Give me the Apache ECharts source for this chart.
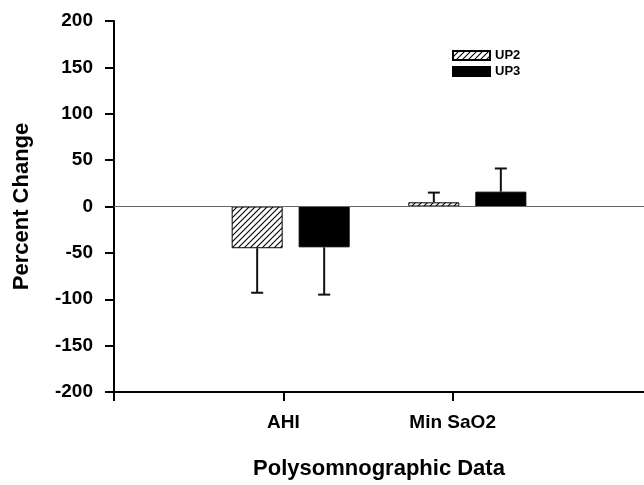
<!DOCTYPE html>
<html>
<head>
<meta charset="utf-8">
<script src="https://cdn.jsdelivr.net/npm/echarts@6/dist/echarts.min.js"></script>
<style>
  html, body { margin: 0; padding: 0; background: #fff; }
  #chart { width: 644px; height: 485px; }
</style>
</head>
<body>
<div id="chart"></div>
<script>
// data
const categories = ["AHI", "Min SaO2"];
const up2 = [-45, 4.5];
const up2Err = [48, 10.5];
const up3 = [-44, 16];
const up3Err = [51, 25];
const yTicks = { min: -200, max: 200, interval: 50 };

const FONT = "'Liberation Sans', Arial, sans-serif";
const BAR_W = 51;
const BAR_GAP = 16;

// hatch pattern for UP2
function makeHatch() {
  const size = 6;
  const c = document.createElement("canvas");
  c.width = size;
  c.height = size;
  const ctx = c.getContext("2d");
  ctx.fillStyle = "#fff";
  ctx.fillRect(0, 0, size, size);
  ctx.strokeStyle = "#000";
  ctx.lineWidth = 1.1;
  ctx.beginPath();
  ctx.moveTo(0, size);
  ctx.lineTo(size, 0);
  ctx.moveTo(-size / 2, size / 2);
  ctx.lineTo(size / 2, -size / 2);
  ctx.moveTo(size / 2, size * 1.5);
  ctx.lineTo(size * 1.5, size / 2);
  ctx.stroke();
  return c;
}

// category axis has empty ends so the groups sit inside the long x axis
const axisCats = ["", ...categories, ""];
const padSeries = (arr) => [null, ...arr, null];

function errorSeries(vals, errs, offset) {
  return {
    type: "custom",
    xAxisIndex: 0,
    silent: true,
    z: 5,
    data: vals.map((v, i) => [i + 1, v, errs[i]]),
    renderItem: function (params, api) {
      const v = api.value(1);
      const e = api.value(2);
      const sign = v < 0 ? -1 : 1;
      const p0 = api.coord([api.value(0), v]);
      const p1 = api.coord([api.value(0), v + sign * e]);
      const x = p0[0] + offset;
      const st = { stroke: "#111", lineWidth: 2 };
      return {
        type: "group",
        children: [
          { type: "line", shape: { x1: x, y1: p0[1], x2: x, y2: p1[1] }, style: st },
          { type: "line", shape: { x1: x - 6, y1: p1[1], x2: x + 6, y2: p1[1] }, style: st },
        ],
      };
    },
  };
}

const chart = echarts.init(document.getElementById("chart"));
chart.setOption({
  animation: false,
  backgroundColor: "#fff",
  textStyle: { fontFamily: FONT },
  legend: {
    orient: "vertical",
    left: 447,
    top: 44,
    itemWidth: 37,
    itemHeight: 9,
    itemGap: 3,
    icon: "rect",
    data: ["UP2", "UP3"],
    textStyle: { fontFamily: FONT, fontWeight: "bold", fontSize: 13, color: "#000" },
  },
  grid: { left: 114, right: 0, top: 21, bottom: 93 },
  xAxis: [
    {
      type: "category",
      data: axisCats,
      boundaryGap: false,
      show: false,
    },
    {
      type: "value",
      min: 0,
      max: 3.13,
      position: "bottom",
      axisLine: { show: true, lineStyle: { color: "#000", width: 2 } },
      axisTick: { show: true, length: 9, lineStyle: { color: "#000", width: 2 }, customValues: [0, 1, 2] },
      axisLabel: {
        customValues: [1, 2],
        formatter: (v) => categories[Math.round(v) - 1] || "",
        color: "#000",
        fontFamily: FONT,
        fontWeight: "bold",
        fontSize: 19,
        margin: 21,
      },
      splitLine: { show: false },
      name: "Polysomnographic Data",
      nameLocation: "middle",
      nameGap: 66,
      nameTextStyle: { color: "#000", fontFamily: FONT, fontWeight: "bold", fontSize: 22 },
    },
  ],
  yAxis: {
    type: "value",
    min: yTicks.min,
    max: yTicks.max,
    interval: yTicks.interval,
    axisLine: { show: true, lineStyle: { color: "#000", width: 2 } },
    axisTick: { show: true, length: 9, lineStyle: { color: "#000", width: 2 } },
    axisLabel: {
      color: "#000",
      fontFamily: FONT,
      fontWeight: "bold",
      fontSize: 19,
      margin: 21,
    },
    splitLine: { show: false },
    name: "Percent Change",
    nameLocation: "middle",
    nameGap: 81,
    nameTextStyle: { color: "#000", fontFamily: FONT, fontWeight: "bold", fontSize: 22 },
  },
  series: [
    {
      name: "UP2",
      type: "bar",
      xAxisIndex: 0,
      barWidth: BAR_W,
      barGap: (BAR_GAP / BAR_W) * 100 + "%",
      data: padSeries(up2),
      itemStyle: {
        color: { image: makeHatch(), repeat: "repeat" },
        borderColor: "#000",
        borderWidth: 1,
      },
      markLine: {
        silent: true,
        symbol: "none",
        label: { show: false },
        lineStyle: { color: "#666", width: 1, type: "solid" },
        data: [{ yAxis: 0 }],
      },
    },
    {
      name: "UP3",
      type: "bar",
      xAxisIndex: 0,
      barWidth: BAR_W,
      data: padSeries(up3),
      itemStyle: { color: "#000", borderColor: "#000", borderWidth: 1 },
    },
    errorSeries(up2, up2Err, -(BAR_W + BAR_GAP) / 2),
    errorSeries(up3, up3Err, (BAR_W + BAR_GAP) / 2),
  ],
});
</script>
</body>
</html>
